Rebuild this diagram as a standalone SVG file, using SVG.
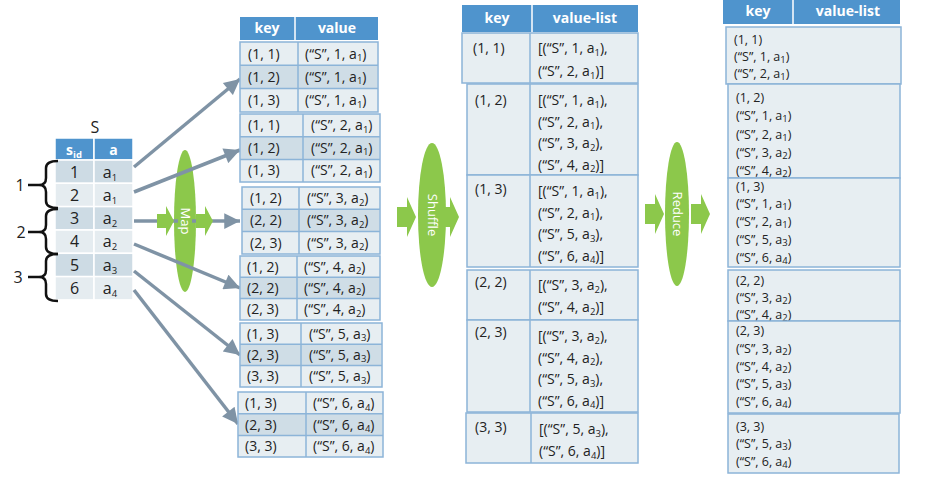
<svg xmlns="http://www.w3.org/2000/svg" width="928" height="477" viewBox="0 0 928 477">
<defs>
<style>
text{font-family:"Open Sans","Noto Sans","DejaVu Sans",sans-serif;fill:#222;}
.hd{fill:#4f94cd;}
.hdt{fill:#fff;font-weight:bold;font-size:14px;text-anchor:middle;}
.cell{fill:#e7eef2;stroke:#8cb4d8;stroke-width:1.5;}
.mid{fill:#cfdde6;}
.ln{stroke:#8cb4d8;stroke-width:1.5;fill:none;}
.t{font-size:14px;}
.tr{font-size:12.5px;}
.sub{font-size:9.5px;}
.sr1{fill:#cddbe4;stroke:#fff;stroke-width:1.5;}
.sr2{fill:#e5ecf0;stroke:#fff;stroke-width:1.5;}
.st{font-size:16px;text-anchor:middle;}
.br{fill:none;stroke:#111;stroke-width:2.5;stroke-linejoin:round;}
.conn{stroke:#7f93a5;stroke-width:3.5;fill:none;}
.green{fill:#8cc84b;}
.gt{fill:#fff;font-size:13px;text-anchor:middle;}
</style>
<marker id="ah" viewBox="0 0 10 10" refX="10" refY="5" markerWidth="5" markerHeight="4.5" orient="auto" markerUnits="strokeWidth">
<path d="M0,0 L10,5 L0,10 Z" fill="#7f93a5"/>
</marker>
<path id="ba1" d="M0,-7 H9 V-15 L17,0 L9,15 V7 H0 Z"/>
<path id="ba2" d="M0,-10 H10 V-20 L19,0 L10,20 V10 H0 Z"/>
</defs>
<rect width="928" height="477" fill="#fff"/>

<!-- S table -->
<g id="tableS">
<text x="95" y="133" class="st">S</text>
<rect x="55" y="138" width="39" height="22" class="hd" stroke="#fff" stroke-width="1.5"/>
<rect x="94" y="138" width="39" height="22" class="hd" stroke="#fff" stroke-width="1.5"/>
<text x="74" y="155" class="hdt" font-size="15">s<tspan class="sub" font-size="10" dy="3">id</tspan></text>
<text x="113.5" y="155" class="hdt" font-size="15">a</text>
<rect x="55" y="160" width="39" height="23.3" class="sr1"/><rect x="94" y="160" width="39" height="23.3" class="sr1"/>
<rect x="55" y="183.3" width="39" height="23.3" class="sr2"/><rect x="94" y="183.3" width="39" height="23.3" class="sr2"/>
<rect x="55" y="206.6" width="39" height="23.3" class="sr1"/><rect x="94" y="206.6" width="39" height="23.3" class="sr1"/>
<rect x="55" y="230" width="39" height="23.3" class="sr2"/><rect x="94" y="230" width="39" height="23.3" class="sr2"/>
<rect x="55" y="253.3" width="39" height="23.3" class="sr1"/><rect x="94" y="253.3" width="39" height="23.3" class="sr1"/>
<rect x="55" y="276.6" width="39" height="23.3" class="sr2"/><rect x="94" y="276.6" width="39" height="23.3" class="sr2"/>
<text x="74.5" y="177.5" class="st">1</text><text x="110" y="177.5" class="st">a<tspan class="sub" font-size="10.5" dy="3">1</tspan></text>
<text x="74.5" y="200.8" class="st">2</text><text x="110" y="200.8" class="st">a<tspan class="sub" font-size="10.5" dy="3">1</tspan></text>
<text x="74.5" y="224.1" class="st">3</text><text x="110" y="224.1" class="st">a<tspan class="sub" font-size="10.5" dy="3">2</tspan></text>
<text x="74.5" y="247.4" class="st">4</text><text x="110" y="247.4" class="st">a<tspan class="sub" font-size="10.5" dy="3">2</tspan></text>
<text x="74.5" y="270.7" class="st">5</text><text x="110" y="270.7" class="st">a<tspan class="sub" font-size="10.5" dy="3">3</tspan></text>
<text x="74.5" y="294" class="st">6</text><text x="110" y="294" class="st">a<tspan class="sub" font-size="10.5" dy="3">4</tspan></text>
</g>

<g id="brackets">
<path class="br" d="M58,161 Q46,161 46,168 L46,178 Q46,185 39,185 L28,185 M39,185 Q46,185 46,192 L46,201 Q46,208 58,208"/>
<path class="br" d="M58,209 Q46,209 46,216 L46,225 Q46,232 39,232 L28,232 M39,232 Q46,232 46,239 L46,247 Q46,254 58,254"/>
<path class="br" d="M58,254 Q46,254 46,261 L46,270 Q46,277 39,277 L28,277 M39,277 Q46,277 46,284 L46,294 Q46,301 58,301"/>
<text x="20" y="191" class="st" font-size="15">1</text>
<text x="21" y="238" class="st" font-size="15">2</text>
<text x="18" y="283" class="st" font-size="15">3</text>
</g>

<!-- Map ellipse -->
<g id="map">
<ellipse cx="185" cy="221" rx="11" ry="71" class="green"/>
</g>

<g id="connectors">
<line x1="134" y1="167" x2="240" y2="79" class="conn" marker-end="url(#ah)"/>
<line x1="134" y1="192" x2="240" y2="150" class="conn" marker-end="url(#ah)"/>
<line x1="134" y1="221" x2="240" y2="221" class="conn" marker-end="url(#ah)"/>
<line x1="134" y1="244" x2="240" y2="288" class="conn" marker-end="url(#ah)"/>
<line x1="134" y1="271" x2="240" y2="355" class="conn" marker-end="url(#ah)"/>
<line x1="134" y1="290" x2="238" y2="424" class="conn" marker-end="url(#ah)"/>
</g>

<g id="mapLabel">
<rect x="178" y="200" width="14" height="42" class="green"/>
<use href="#ba1" x="157" y="221" class="green"/>
<use href="#ba1" x="196" y="221" class="green"/>
<text class="gt" transform="translate(181,221) rotate(90)">Map</text>
</g>

<!-- Map output table -->
<g id="mapHeader">
<rect x="240" y="17" width="138" height="23" class="hd"/>
<line x1="295" y1="17" x2="295" y2="40" stroke="#fff" stroke-width="1.5"/>
<text x="267" y="33" class="hdt">key</text>
<text x="337" y="33" class="hdt">value</text>
</g>

<g id="m1">
<rect x="240" y="42" width="138" height="70" class="cell"/>
<rect x="241" y="65.3" width="136" height="23.3" class="mid"/>
<line x1="240" y1="65.3" x2="378" y2="65.3" class="ln"/><line x1="240" y1="88.6" x2="378" y2="88.6" class="ln"/>
<line x1="298" y1="42" x2="298" y2="112" class="ln"/>
<text class="t" x="248" y="58.5">(1, 1)</text><text class="t" x="305" y="58.5">(“S”, 1, a<tspan class="sub" dy="2.5">1</tspan><tspan dy="-2.5">)</tspan></text>
<text class="t" x="248" y="81.8">(1, 2)</text><text class="t" x="305" y="81.8">(“S”, 1, a<tspan class="sub" dy="2.5">1</tspan><tspan dy="-2.5">)</tspan></text>
<text class="t" x="248" y="105.1">(1, 3)</text><text class="t" x="305" y="105.1">(“S”, 1, a<tspan class="sub" dy="2.5">1</tspan><tspan dy="-2.5">)</tspan></text>
</g>

<g id="m2">
<rect x="240" y="114" width="140" height="68" class="cell"/>
<rect x="241" y="136.7" width="138" height="22.7" class="mid"/>
<line x1="240" y1="136.7" x2="380" y2="136.7" class="ln"/><line x1="240" y1="159.4" x2="380" y2="159.4" class="ln"/>
<line x1="303" y1="114" x2="303" y2="182" class="ln"/>
<text class="t" x="248" y="130">(1, 1)</text><text class="t" x="311" y="130">(“S”, 2, a<tspan class="sub" dy="2.5">1</tspan><tspan dy="-2.5">)</tspan></text>
<text class="t" x="248" y="152.7">(1, 2)</text><text class="t" x="311" y="152.7">(“S”, 2, a<tspan class="sub" dy="2.5">1</tspan><tspan dy="-2.5">)</tspan></text>
<text class="t" x="248" y="175.4">(1, 3)</text><text class="t" x="311" y="175.4">(“S”, 2, a<tspan class="sub" dy="2.5">1</tspan><tspan dy="-2.5">)</tspan></text>
</g>

<g id="m3">
<rect x="242" y="187" width="138" height="67" class="cell"/>
<rect x="243" y="209.3" width="136" height="22.3" class="mid"/>
<line x1="242" y1="209.3" x2="380" y2="209.3" class="ln"/><line x1="242" y1="231.6" x2="380" y2="231.6" class="ln"/>
<line x1="299" y1="187" x2="299" y2="254" class="ln"/>
<text class="t" x="250" y="203">(1, 2)</text><text class="t" x="307" y="203">(“S”, 3, a<tspan class="sub" dy="2.5">2</tspan><tspan dy="-2.5">)</tspan></text>
<text class="t" x="250" y="225.3">(2, 2)</text><text class="t" x="307" y="225.3">(“S”, 3, a<tspan class="sub" dy="2.5">2</tspan><tspan dy="-2.5">)</tspan></text>
<text class="t" x="250" y="247.6">(2, 3)</text><text class="t" x="307" y="247.6">(“S”, 3, a<tspan class="sub" dy="2.5">2</tspan><tspan dy="-2.5">)</tspan></text>
</g>

<g id="m4">
<rect x="240" y="256" width="140" height="64" class="cell"/>
<rect x="241" y="277.3" width="138" height="21.3" class="mid"/>
<line x1="240" y1="277.3" x2="380" y2="277.3" class="ln"/><line x1="240" y1="298.6" x2="380" y2="298.6" class="ln"/>
<line x1="297" y1="256" x2="297" y2="320" class="ln"/>
<text class="t" x="247" y="271.5">(1, 2)</text><text class="t" x="304" y="271.5">(“S”, 4, a<tspan class="sub" dy="2.5">2</tspan><tspan dy="-2.5">)</tspan></text>
<text class="t" x="247" y="292.8">(2, 2)</text><text class="t" x="304" y="292.8">(“S”, 4, a<tspan class="sub" dy="2.5">2</tspan><tspan dy="-2.5">)</tspan></text>
<text class="t" x="247" y="314.1">(2, 3)</text><text class="t" x="304" y="314.1">(“S”, 4, a<tspan class="sub" dy="2.5">2</tspan><tspan dy="-2.5">)</tspan></text>
</g>

<g id="m5">
<rect x="240" y="323" width="142" height="64" class="cell"/>
<rect x="241" y="344.3" width="140" height="21.3" class="mid"/>
<line x1="240" y1="344.3" x2="382" y2="344.3" class="ln"/><line x1="240" y1="365.6" x2="382" y2="365.6" class="ln"/>
<line x1="301" y1="323" x2="301" y2="387" class="ln"/>
<text class="t" x="247" y="338.5">(1, 3)</text><text class="t" x="309" y="338.5">(“S”, 5, a<tspan class="sub" dy="2.5">3</tspan><tspan dy="-2.5">)</tspan></text>
<text class="t" x="247" y="359.8">(2, 3)</text><text class="t" x="309" y="359.8">(“S”, 5, a<tspan class="sub" dy="2.5">3</tspan><tspan dy="-2.5">)</tspan></text>
<text class="t" x="247" y="381.1">(3, 3)</text><text class="t" x="309" y="381.1">(“S”, 5, a<tspan class="sub" dy="2.5">3</tspan><tspan dy="-2.5">)</tspan></text>
</g>

<g id="m6">
<rect x="238" y="392" width="145" height="65" class="cell"/>
<rect x="239" y="413.7" width="143" height="21.7" class="mid"/>
<line x1="238" y1="413.7" x2="383" y2="413.7" class="ln"/><line x1="238" y1="435.4" x2="383" y2="435.4" class="ln"/>
<line x1="306" y1="392" x2="306" y2="457" class="ln"/>
<text class="t" x="245" y="408">(1, 3)</text><text class="t" x="313" y="408">(“S”, 6, a<tspan class="sub" dy="2.5">4</tspan><tspan dy="-2.5">)</tspan></text>
<text class="t" x="245" y="429.7">(2, 3)</text><text class="t" x="313" y="429.7">(“S”, 6, a<tspan class="sub" dy="2.5">4</tspan><tspan dy="-2.5">)</tspan></text>
<text class="t" x="245" y="451.4">(3, 3)</text><text class="t" x="313" y="451.4">(“S”, 6, a<tspan class="sub" dy="2.5">4</tspan><tspan dy="-2.5">)</tspan></text>
</g>

<!-- Shuffle -->
<g id="shuffle">
<ellipse cx="432" cy="215" rx="14" ry="72" class="green"/>
<use href="#ba2" x="397" y="217" class="green"/>
<use href="#ba2" x="440" y="217" class="green"/>
<text class="gt" transform="translate(427.5,215) rotate(90)">Shuffle</text>
</g>

<g id="shuffleHeader">
<rect x="462" y="5" width="176" height="27" class="hd"/>
<line x1="532" y1="5" x2="532" y2="32" stroke="#fff" stroke-width="1.5"/>
<text x="497" y="23" class="hdt">key</text>
<text x="585" y="23" class="hdt">value-list</text>
</g>

<g id="s1">
<rect x="462" y="33" width="176" height="50" class="cell"/>
<line x1="530" y1="33" x2="530" y2="83" class="ln"/>
<text class="t" x="473" y="53">(1, 1)</text>
<text class="t" x="538" y="53">[(“S”, 1, a<tspan class="sub" dy="2.5">1</tspan><tspan dy="-2.5">),</tspan></text>
<text class="t" x="538" y="76">(“S”, 2, a<tspan class="sub" dy="2.5">1</tspan><tspan dy="-2.5">)]</tspan></text>
</g>

<g id="s2">
<rect x="467" y="84" width="171" height="91" class="cell"/>
<line x1="530" y1="84" x2="530" y2="175" class="ln"/>
<text class="t" x="475" y="105">(1, 2)</text>
<text class="t" x="538" y="105">[(“S”, 1, a<tspan class="sub" dy="2.5">1</tspan><tspan dy="-2.5">),</tspan></text>
<text class="t" x="538" y="126.5">(“S”, 2, a<tspan class="sub" dy="2.5">1</tspan><tspan dy="-2.5">),</tspan></text>
<text class="t" x="538" y="148">(“S”, 3, a<tspan class="sub" dy="2.5">2</tspan><tspan dy="-2.5">),</tspan></text>
<text class="t" x="538" y="169.5">(“S”, 4, a<tspan class="sub" dy="2.5">2</tspan><tspan dy="-2.5">)]</tspan></text>
</g>

<g id="s3">
<rect x="467" y="175" width="171" height="92" class="cell"/>
<line x1="530" y1="175" x2="530" y2="267" class="ln"/>
<text class="t" x="475" y="194">(1, 3)</text>
<text class="t" x="538" y="196">[(“S”, 1, a<tspan class="sub" dy="2.5">1</tspan><tspan dy="-2.5">),</tspan></text>
<text class="t" x="538" y="217.5">(“S”, 2, a<tspan class="sub" dy="2.5">1</tspan><tspan dy="-2.5">),</tspan></text>
<text class="t" x="538" y="239">(“S”, 5, a<tspan class="sub" dy="2.5">3</tspan><tspan dy="-2.5">),</tspan></text>
<text class="t" x="538" y="260.5">(“S”, 6, a<tspan class="sub" dy="2.5">4</tspan><tspan dy="-2.5">)]</tspan></text>
</g>

<g id="s4">
<rect x="467" y="270" width="171" height="50" class="cell"/>
<line x1="530" y1="270" x2="530" y2="320" class="ln"/>
<text class="t" x="475" y="287">(2, 2)</text>
<text class="t" x="538" y="290">[(“S”, 3, a<tspan class="sub" dy="2.5">2</tspan><tspan dy="-2.5">),</tspan></text>
<text class="t" x="538" y="312">(“S”, 4, a<tspan class="sub" dy="2.5">2</tspan><tspan dy="-2.5">)]</tspan></text>
</g>

<g id="s5">
<rect x="467" y="320" width="171" height="92" class="cell"/>
<line x1="530" y1="320" x2="530" y2="412" class="ln"/>
<text class="t" x="475" y="337">(2, 3)</text>
<text class="t" x="538" y="341">[(“S”, 3, a<tspan class="sub" dy="2.5">2</tspan><tspan dy="-2.5">),</tspan></text>
<text class="t" x="538" y="362.5">(“S”, 4, a<tspan class="sub" dy="2.5">2</tspan><tspan dy="-2.5">),</tspan></text>
<text class="t" x="538" y="384">(“S”, 5, a<tspan class="sub" dy="2.5">3</tspan><tspan dy="-2.5">),</tspan></text>
<text class="t" x="538" y="405.5">(“S”, 6, a<tspan class="sub" dy="2.5">4</tspan><tspan dy="-2.5">)]</tspan></text>
</g>

<g id="s6">
<rect x="466" y="413" width="172" height="50" class="cell"/>
<line x1="531" y1="413" x2="531" y2="463" class="ln"/>
<text class="t" x="475" y="432">(3, 3)</text>
<text class="t" x="539" y="434">[(“S”, 5, a<tspan class="sub" dy="2.5">3</tspan><tspan dy="-2.5">),</tspan></text>
<text class="t" x="539" y="456">(“S”, 6, a<tspan class="sub" dy="2.5">4</tspan><tspan dy="-2.5">)]</tspan></text>
</g>

<!-- Reduce -->
<g id="reduce">
<ellipse cx="677" cy="214" rx="12" ry="72" class="green"/>
<use href="#ba2" x="645" y="214" class="green"/>
<use href="#ba2" x="691" y="214" class="green"/>
<text class="gt" transform="translate(672.5,214) rotate(90)">Reduce</text>
</g>

<g id="reduceHeader">
<rect x="723" y="0" width="177" height="24" class="hd"/>
<line x1="793" y1="0" x2="793" y2="24" stroke="#fff" stroke-width="1.5"/>
<text x="758" y="16" class="hdt">key</text>
<text x="848" y="16" class="hdt">value-list</text>
</g>

<g id="r1">
<rect x="726" y="27" width="175" height="57" class="cell"/>
<text class="tr" x="734" y="43.5">(1, 1)</text>
<text class="tr" x="734" y="60.5">(“S”, 1, a<tspan class="sub" font-size="8.5" dy="2">1</tspan><tspan dy="-2">)</tspan></text>
<text class="tr" x="734" y="77.5">(“S”, 2, a<tspan class="sub" font-size="8.5" dy="2">1</tspan><tspan dy="-2">)</tspan></text>
</g>

<g id="r2">
<rect x="728" y="84" width="172" height="94" class="cell"/>
<text class="tr" x="736" y="101.5">(1, 2)</text>
<text class="tr" x="736" y="120">(“S”, 1, a<tspan class="sub" font-size="8.5" dy="2">1</tspan><tspan dy="-2">)</tspan></text>
<text class="tr" x="736" y="138.5">(“S”, 2, a<tspan class="sub" font-size="8.5" dy="2">1</tspan><tspan dy="-2">)</tspan></text>
<text class="tr" x="736" y="156.5">(“S”, 3, a<tspan class="sub" font-size="8.5" dy="2">2</tspan><tspan dy="-2">)</tspan></text>
<text class="tr" x="736" y="174.5">(“S”, 4, a<tspan class="sub" font-size="8.5" dy="2">2</tspan><tspan dy="-2">)</tspan></text>
</g>

<g id="r3">
<rect x="728" y="178" width="172" height="89" class="cell"/>
<text class="tr" x="736" y="190.5">(1, 3)</text>
<text class="tr" x="736" y="207.5">(“S”, 1, a<tspan class="sub" font-size="8.5" dy="2">1</tspan><tspan dy="-2">)</tspan></text>
<text class="tr" x="736" y="225.5">(“S”, 2, a<tspan class="sub" font-size="8.5" dy="2">1</tspan><tspan dy="-2">)</tspan></text>
<text class="tr" x="736" y="243.5">(“S”, 5, a<tspan class="sub" font-size="8.5" dy="2">3</tspan><tspan dy="-2">)</tspan></text>
<text class="tr" x="736" y="261.5">(“S”, 6, a<tspan class="sub" font-size="8.5" dy="2">4</tspan><tspan dy="-2">)</tspan></text>
</g>

<g id="r4">
<rect x="728" y="270" width="172" height="51" class="cell"/>
<text class="tr" x="736" y="284.5">(2, 2)</text>
<text class="tr" x="736" y="301.5">(“S”, 3, a<tspan class="sub" font-size="8.5" dy="2">2</tspan><tspan dy="-2">)</tspan></text>
<text class="tr" x="736" y="318.5">(“S”, 4, a<tspan class="sub" font-size="8.5" dy="2">2</tspan><tspan dy="-2">)</tspan></text>
</g>

<g id="r5">
<rect x="728" y="321" width="172" height="92" class="cell"/>
<text class="tr" x="736" y="334.5">(2, 3)</text>
<text class="tr" x="736" y="352.5">(“S”, 3, a<tspan class="sub" font-size="8.5" dy="2">2</tspan><tspan dy="-2">)</tspan></text>
<text class="tr" x="736" y="370.5">(“S”, 4, a<tspan class="sub" font-size="8.5" dy="2">2</tspan><tspan dy="-2">)</tspan></text>
<text class="tr" x="736" y="387.5">(“S”, 5, a<tspan class="sub" font-size="8.5" dy="2">3</tspan><tspan dy="-2">)</tspan></text>
<text class="tr" x="736" y="405.5">(“S”, 6, a<tspan class="sub" font-size="8.5" dy="2">4</tspan><tspan dy="-2">)</tspan></text>
</g>

<g id="r6">
<rect x="728" y="414" width="171" height="59" class="cell"/>
<text class="tr" x="736" y="430.5">(3, 3)</text>
<text class="tr" x="736" y="447.5">(“S”, 5, a<tspan class="sub" font-size="8.5" dy="2">3</tspan><tspan dy="-2">)</tspan></text>
<text class="tr" x="736" y="465.5">(“S”, 6, a<tspan class="sub" font-size="8.5" dy="2">4</tspan><tspan dy="-2">)</tspan></text>
</g>
</svg>
